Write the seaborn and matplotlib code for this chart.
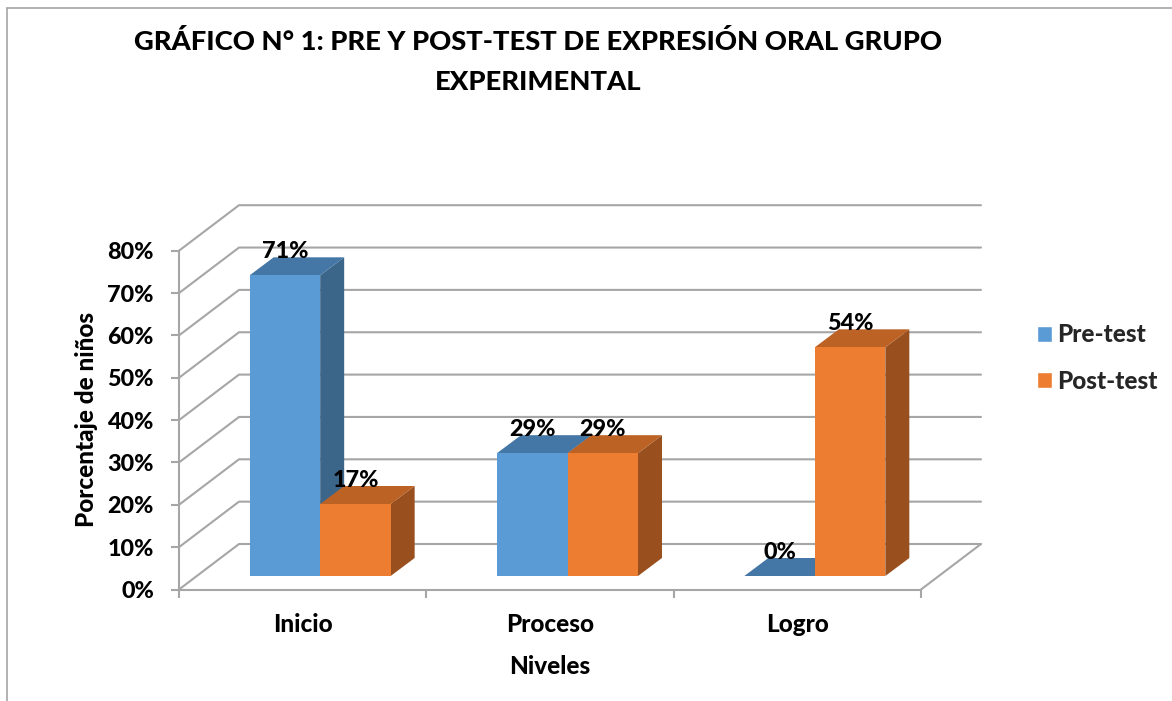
import matplotlib
matplotlib.use("Agg")
import matplotlib.pyplot as plt
import pandas as pd
import seaborn as sns
from matplotlib.lines import Line2D
from matplotlib.patches import Polygon

categories = ["Inicio", "Proceso", "Logro"]
pre_test = [71, 29, 0]
post_test = [17, 29, 54]
series_names = ["Pre-test", "Post-test"]
y_ticks = [0, 10, 20, 30, 40, 50, 60, 70, 80]

W, H = 1172, 701
sns.set_theme(style="white")
plt.rcParams["font.family"] = ["Lato", "DejaVu Sans"]
WEIGHT = "black"

df = pd.DataFrame({
    "Nivel": categories * 2,
    "Serie": [series_names[0]] * 3 + [series_names[1]] * 3,
    "Valor": pre_test + post_test,
})

GRAY = "#A6A6A6"
FRONT = ["#5B9BD5", "#ED7D31"]
TOP = ["#4577A6", "#BC6225"]
SIDE = ["#3B6589", "#99501E"]
FS = 16.8
FS_LABEL = 17.5

fig = plt.figure(figsize=(W / 100, H / 100), dpi=100, facecolor="white")
L, R, B, T = 179, 921, 589.5, 250.7
ax = fig.add_axes([L / W, 1 - B / H, (R - L) / W, (B - T) / H])
sns.barplot(data=df, x="Nivel", y="Valor", hue="Serie", palette=FRONT,
            width=0.57, saturation=1, ax=ax, zorder=5, legend=True, errorbar=None)
ax.set_xlim(-0.5, 2.5)
ax.set_ylim(0, 80)
px_x = (R - L) / 3
px_y = (B - T) / 80

# 3-D offsets expressed in data units
wall_x, wall_y = 60 / px_x, 45.5 / px_y
shift_x, shift_y = 17.5 / px_x, 13.5 / px_y
deep_x, deep_y = 24 / px_x, 18 / px_y

# walls and floor
x0, x1 = ax.get_xlim()
for t in y_ticks:
    ax.plot([x0, x0 + wall_x, x1 + wall_x], [t, t + wall_y, t + wall_y],
            color=GRAY, lw=1.5, clip_on=False, zorder=1, solid_joinstyle="miter")
ax.plot([x1, x1 + wall_x], [0, wall_y], color=GRAY, lw=1.5, clip_on=False, zorder=1)

# bars: shift the fronts and add top and side faces
z = 5
for s, cont in enumerate(ax.containers):
    for bar in cont:
        bar.set_x(bar.get_x() + shift_x)
        bar.set_y(bar.get_y() + shift_y)
        bar.set_clip_on(False)
        bar.set_edgecolor("none")
        xa, xb = bar.get_x(), bar.get_x() + bar.get_width()
        yb, yt = bar.get_y(), bar.get_y() + bar.get_height()
        side = Polygon([(xb, yb), (xb + deep_x, yb + deep_y), (xb + deep_x, yt + deep_y), (xb, yt)],
                       closed=True, fc=SIDE[s], ec="none", clip_on=False, zorder=z)
        top = Polygon([(xa, yt), (xa + deep_x, yt + deep_y), (xb + deep_x, yt + deep_y), (xb, yt)],
                      closed=True, fc=TOP[s], ec="none", clip_on=False, zorder=z)
        ax.add_patch(side)
        ax.add_patch(top)
        bar.set_zorder(z + 0.5)
        ax.text((xa + xb) / 2, yt + deep_y - 0.2, f"{bar.get_height():.0f}%", ha="center",
                va="baseline", fontsize=FS, fontweight=WEIGHT, color="black",
                clip_on=False, zorder=20)
    z += 1

# axes
sns.despine(ax=ax, top=True, right=True)
for name in ("left", "bottom"):
    ax.spines[name].set_color(GRAY)
    ax.spines[name].set_linewidth(1.5)
    ax.spines[name].set_zorder(2)
ax.set_yticks(y_ticks)
ax.set_yticklabels([f"{t}%" for t in y_ticks], fontsize=FS, fontweight=WEIGHT, color="black")
ax.set_xticks([0, 1, 2])
ax.set_xticklabels(categories, fontsize=FS_LABEL, fontweight=WEIGHT, color="black")
ax.set_xticks([-0.5, 0.5, 1.5, 2.5], minor=True)
ax.tick_params(axis="x", which="major", length=0, pad=17)
ax.tick_params(axis="x", which="minor", length=6, width=1.5, color=GRAY, bottom=True)
ax.tick_params(axis="y", length=6, width=1.5, color=GRAY, left=True, pad=12)
ax.set_xlabel("")
ax.set_ylabel("")

fig.text(86 / W, 1 - 419 / H, "Porcentaje de niños", rotation=90, ha="center", va="center",
         fontsize=FS_LABEL, fontweight=WEIGHT, color="black")
fig.text(550 / W, 1 - 666 / H, "Niveles", ha="center", va="center",
         fontsize=FS_LABEL, fontweight=WEIGHT, color="black")
fig.text(538 / W, 1 - 42 / H, "GRÁFICO N° 1: PRE Y POST-TEST DE EXPRESIÓN ORAL GRUPO",
         ha="center", va="center", fontsize=19.7, fontweight=WEIGHT, color="black")
fig.text(538 / W, 1 - 82 / H, "EXPERIMENTAL", ha="center", va="center",
         fontsize=19.7, fontweight=WEIGHT, color="black")

# legend
handles, labels = ax.get_legend_handles_labels()
leg = ax.legend(handles, labels, loc="center left", bbox_to_anchor=(1037 / W, 1 - 358 / H),
                bbox_transform=fig.transFigure, frameon=False, fontsize=FS_LABEL,
                handlelength=0.62, handleheight=0.62, handletextpad=0.2, labelspacing=0.95,
                borderpad=0, borderaxespad=0)
for t in leg.get_texts():
    t.set_fontweight(WEIGHT)

# outer frame (cropped chart area)
fig.add_artist(Line2D([6.5 / W, 6.5 / W], [0, 1 - 7.5 / H], color=GRAY, lw=1.2))
fig.add_artist(Line2D([6.5 / W, 1], [1 - 7.5 / H, 1 - 7.5 / H], color=GRAY, lw=1.2))

fig.savefig("out.png", dpi=100, facecolor="white")
